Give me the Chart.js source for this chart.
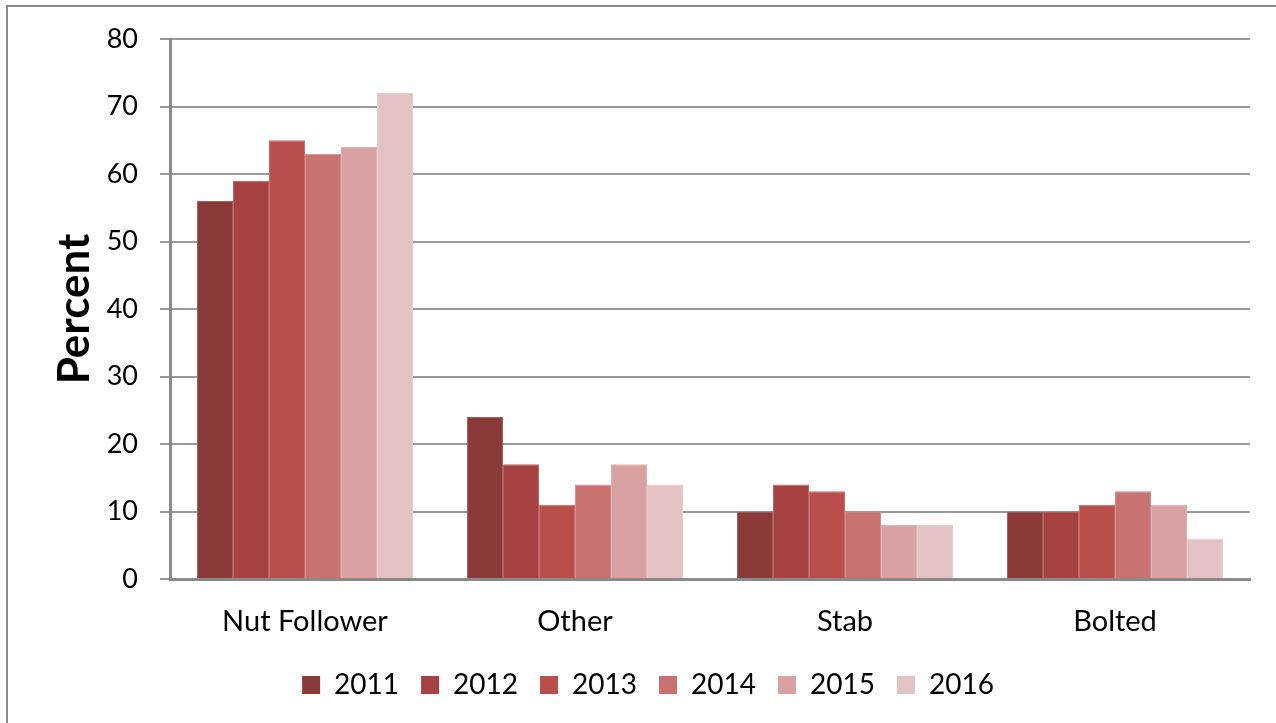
<!DOCTYPE html>
<html>
<head>
<meta charset="utf-8">
<script src="https://cdn.jsdelivr.net/npm/chart.js@4/dist/chart.umd.min.js"></script>
<style>
  html, body { margin: 0; padding: 0; background: #fff; overflow: hidden; }
  #frame { position: absolute; left: 6px; top: 5px; width: 1400px; height: 900px; border: 2px solid #8a8a8a; box-sizing: border-box; }
  #c { position: absolute; left: 0; top: 0; }
</style>
</head>
<body>
<div id="frame"></div>
<canvas id="c" width="1276" height="723"></canvas>
<script>
const categories = ["Nut Follower", "Other", "Stab", "Bolted"];
const years = ["2011", "2012", "2013", "2014", "2015", "2016"];
const v2011 = [56, 24, 10, 10];
const v2012 = [59, 17, 14, 10];
const v2013 = [65, 11, 13, 11];
const v2014 = [63, 14, 10, 13];
const v2015 = [64, 17, 8, 11];
const v2016 = [72, 14, 8, 6];
const yTicks = [0, 10, 20, 30, 40, 50, 60, 70, 80];
const yTitle = "Percent";

const seriesValues = [v2011, v2012, v2013, v2014, v2015, v2016];
const colors = ["#8B3A3A", "#A64241", "#B94E4B", "#C87371", "#D9A1A1", "#E3C2C4"];
const edgeColors = ["#A26161", "#B86867", "#C7716F", "#D38F8D", "#E1B4B4", "#E9CED0"];
const FONT = "Lato";

const datasets = years.map((y, i) => ({
  label: y,
  data: seriesValues[i],
  backgroundColor: colors[i],
  borderColor: edgeColors[i],
  borderWidth: 1,
  barPercentage: 1.0,
  categoryPercentage: 0.8
}));

const legendShift = {
  id: "legendShift",
  afterLayout(chart) {
    if (chart.legend) { chart.legend.left += 23; chart.legend.right += 23; }
  }
};

new Chart(document.getElementById("c"), {
  type: "bar",
  data: { labels: categories, datasets },
  plugins: [legendShift],
  options: {
    responsive: false,
    animation: false,
    devicePixelRatio: 1,
    layout: { padding: { left: 0, right: 26, top: 39, bottom: 14 } },
    plugins: {
      legend: {
        position: "bottom",
        labels: {
          boxWidth: 18, boxHeight: 18, padding: 22,
          color: "#000",
          font: { family: FONT, size: 28 },
          generateLabels: (chart) => chart.data.datasets.map((d, i) => ({
            text: d.label, fillStyle: colors[i], strokeStyle: colors[i], lineWidth: 0,
            hidden: false, datasetIndex: i, fontColor: "#000"
          }))
        }
      },
      tooltip: { enabled: false }
    },
    scales: {
      x: {
        grid: { display: true, color: "transparent", drawTicks: false },
        border: { display: true, color: "#8a8a8a", width: 3 },
        ticks: { color: "#000", font: { family: FONT, size: 29 }, padding: 25 },
        afterFit: (s) => { s.height = 70; }
      },
      y: {
        min: 0, max: 80,
        afterBuildTicks: (s) => { s.ticks = yTicks.map(v => ({ value: v })); },
        grid: { color: "#9a9a9a", lineWidth: 2, tickLength: 10, tickColor: "#9a9a9a" },
        border: { display: true, color: "#8a8a8a", width: 3 },
        ticks: { color: "#000", font: { family: FONT, size: 27 }, padding: 22 },
        title: { display: true, text: yTitle, color: "#000", font: { family: FONT, size: 44, weight: "bold" }, padding: { top: 48, bottom: 0 } },
        afterFit: (s) => { s.width = 170; }
      }
    }
  }
});
</script>
</body>
</html>
